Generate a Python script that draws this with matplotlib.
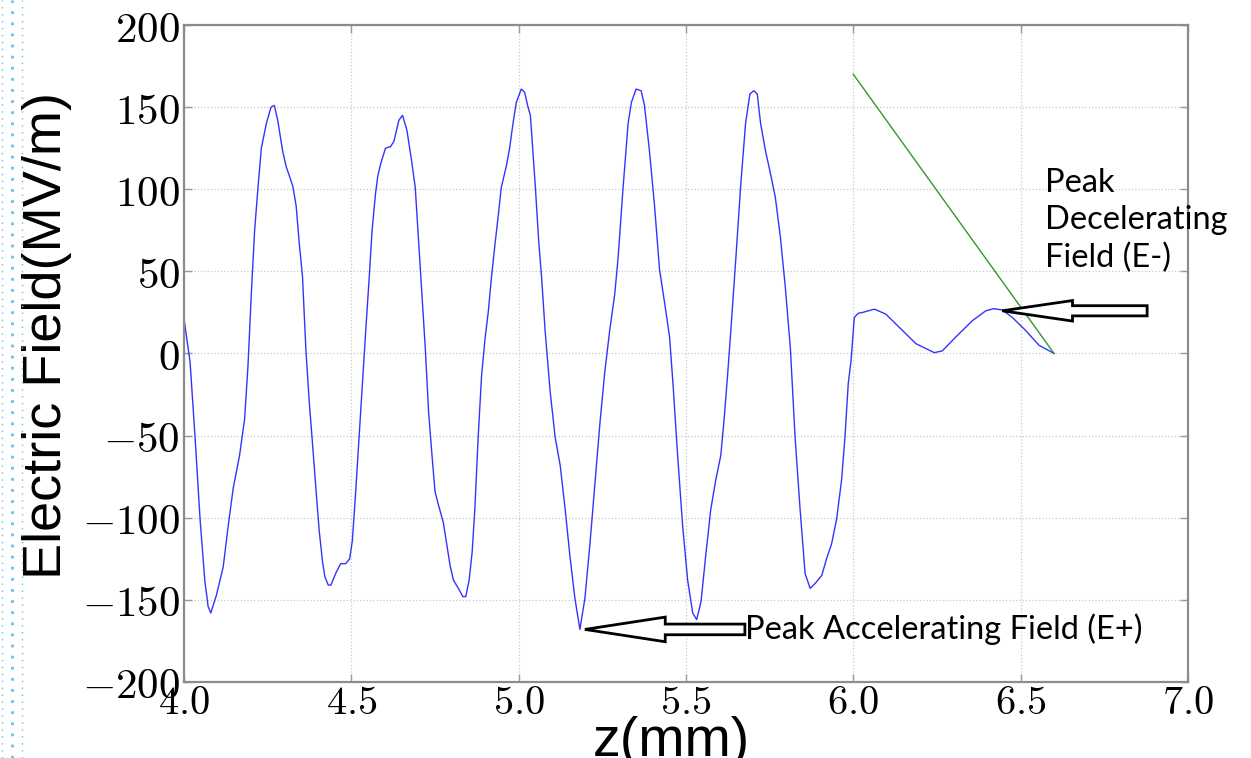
import numpy as np
import matplotlib
matplotlib.use('Agg')
from matplotlib import pyplot as plt
from matplotlib.lines import Line2D
from matplotlib.patches import FancyArrow
from matplotlib.ticker import FuncFormatter

### Data
z_field = [4.000, 4.018, 4.033, 4.048, 4.062, 4.072, 4.080, 4.097, 4.117, 4.132,
           4.147, 4.166, 4.181, 4.191, 4.201, 4.211, 4.221, 4.231, 4.246, 4.260,
           4.270, 4.280, 4.295, 4.305, 4.325, 4.335, 4.344, 4.354, 4.364, 4.374,
           4.384, 4.394, 4.404, 4.414, 4.421, 4.431, 4.439, 4.453, 4.468, 4.483,
           4.495, 4.503, 4.513, 4.523, 4.533, 4.543, 4.553, 4.562, 4.572, 4.579,
           4.587, 4.602, 4.617, 4.627, 4.642, 4.653, 4.666, 4.681, 4.691, 4.701,
           4.711, 4.721, 4.731, 4.741, 4.750, 4.760, 4.775, 4.785, 4.795, 4.805,
           4.820, 4.833, 4.842, 4.852, 4.861, 4.869, 4.879, 4.889, 4.899, 4.909,
           4.919, 4.929, 4.939, 4.948, 4.963, 4.973, 4.983, 4.993, 5.008, 5.018,
           5.028, 5.035, 5.050, 5.060, 5.069, 5.079, 5.094, 5.109, 5.124, 5.139,
           5.153, 5.168, 5.183, 5.198, 5.213, 5.228, 5.243, 5.257, 5.272, 5.287,
           5.297, 5.312, 5.327, 5.337, 5.351, 5.366, 5.376, 5.391, 5.406,
           5.421, 5.436, 5.451, 5.461, 5.475, 5.490, 5.505, 5.520, 5.532, 5.545,
           5.559, 5.574, 5.589, 5.604, 5.614, 5.624, 5.634, 5.649, 5.663, 5.678,
           5.691, 5.703, 5.713, 5.723, 5.738, 5.752, 5.767, 5.782, 5.797, 5.812,
           5.826, 5.841, 5.856, 5.871, 5.886, 5.906, 5.920, 5.935, 5.950, 5.965,
           5.975, 5.985, 5.993, 6.003, 6.015, 6.028, 6.063, 6.097, 6.137, 6.187,
           6.242, 6.266, 6.306, 6.356, 6.396, 6.420, 6.445, 6.475, 6.515, 6.555,
           6.600]
e_field = [21, -5, -51, -101, -138, -154, -158, -147, -130, -105,
           -82, -62, -40, -8, 36, 75, 101, 125, 140, 150,
           151, 142, 123, 114, 102, 90, 68, 47, 3, -29,
           -55, -82, -108, -127, -136, -141, -141, -134, -128, -128,
           -125, -114, -84, -51, -18, 14, 45, 75, 97, 108,
           115, 125, 126, 129, 142, 145, 136, 116, 101, 68,
           36, 3, -36, -62, -84, -92, -103, -116, -129, -138,
           -143, -148, -148, -138, -121, -95, -51, -14, 8, 25,
           47, 66, 84, 101, 114, 125, 140, 153, 161, 159,
           150, 145, 101, 68, 45, 14, -23, -51, -68, -95,
           -123, -149, -168, -149, -116, -79, -42, -12, 14, 36,
           58, 101, 140, 153, 161, 160, 151, 123, 90,
           51, 31, 10, -18, -62, -105, -138, -158, -162, -151,
           -123, -95, -77, -62, -40, -14, 14, 58, 101, 140,
           158, 160, 158, 140, 123, 110, 95, 71, 40, 3,
           -51, -95, -134, -143, -140, -135, -125, -116, -101, -77,
           -51, -18, -5, 22, 24.5, 25, 27, 24, 16, 6,
           0.5, 1.6, 10, 20, 26, 27.3, 26.5, 22, 14, 5,
           0]

# straight green line
z_line = [6.0, 6.6]
e_line = [170, 0]

y_ticks = [-200, -150, -100, -50, 0, 50, 100, 150, 200]
x_ticks = [4.0, 4.5, 5.0, 5.5, 6.0, 6.5, 7.0]

# annotation text
acc_label = 'Peak Accelerating Field (E+)'
dec_label = 'Peak\nDecelerating\nField (E-)'

# ----------------------------------------------------------------------------

plt.rcParams['mathtext.fontset'] = 'cm'
label_font = 'Liberation Sans'

fig = plt.figure(figsize=(12.51, 7.58), dpi=100)
ax = fig.add_axes([0.1471, 0.1003, 0.8025, 0.8667])

ax.plot(z_field, e_field, color='#3333ff', lw=1.0)
ax.plot(z_line, e_line, color='#2e9a2e', lw=1.0)

ax.set_xlim(4.0, 7.0)
ax.set_ylim(-200, 200)
ax.set_xticks(x_ticks)
ax.set_yticks(y_ticks)
ax.xaxis.set_major_formatter(FuncFormatter(lambda v, p: r'$%.1f$' % v))
ax.yaxis.set_major_formatter(FuncFormatter(lambda v, p: r'$%d$' % v))
ax.tick_params(axis='both', direction='in', length=6, width=1, color='#999999',
               labelsize=31, top=True, right=True, pad=3)
ax.tick_params(axis='x', pad=1, labelsize=29)
ax.grid(True, ls=':', color='#c8c8c8', lw=0.9)
for sp in ax.spines.values():
    sp.set_color('#8c8c8c')
    sp.set_linewidth(1.6)

ax.set_xlabel('z(mm)', family=label_font, fontsize=40, va='top')
ax.xaxis.set_label_coords(0.485, -0.052)
ax.set_ylabel('Electric Field(MV/m)', family=label_font, fontsize=39)
ax.yaxis.set_label_coords(-0.112, 0.527)

# hollow block arrows
ax.add_patch(FancyArrow(5.676, -168, -0.478, 0, width=6.5, head_width=15,
                        head_length=0.24, length_includes_head=True,
                        fc='white', ec='black', lw=2, clip_on=False, zorder=5))
ax.add_patch(FancyArrow(6.878, 26, -0.433, 0, width=6.2, head_width=12.5,
                        head_length=0.21, length_includes_head=True,
                        fc='white', ec='black', lw=2, clip_on=False, zorder=5))

ax.text(5.676, -168, acc_label, family='Lato', fontsize=23.5, va='center', ha='left')
ax.text(6.573, 113, dec_label, family='Lato', fontsize=23.5, va='top', ha='left',
        linespacing=1.3)

# dotted slide border on the left
for xf, lw, ls in [(0.0016, 1.0, (0, (1, 4))), (0.0096, 2.0, (0, (1, 3))),
                   (0.0176, 1.0, (0, (1, 4)))]:
    fig.add_artist(Line2D([xf, xf], [0, 1], transform=fig.transFigure,
                          color='#5ec4ee', lw=lw, ls=ls))

fig.savefig('out.png', dpi=100)
